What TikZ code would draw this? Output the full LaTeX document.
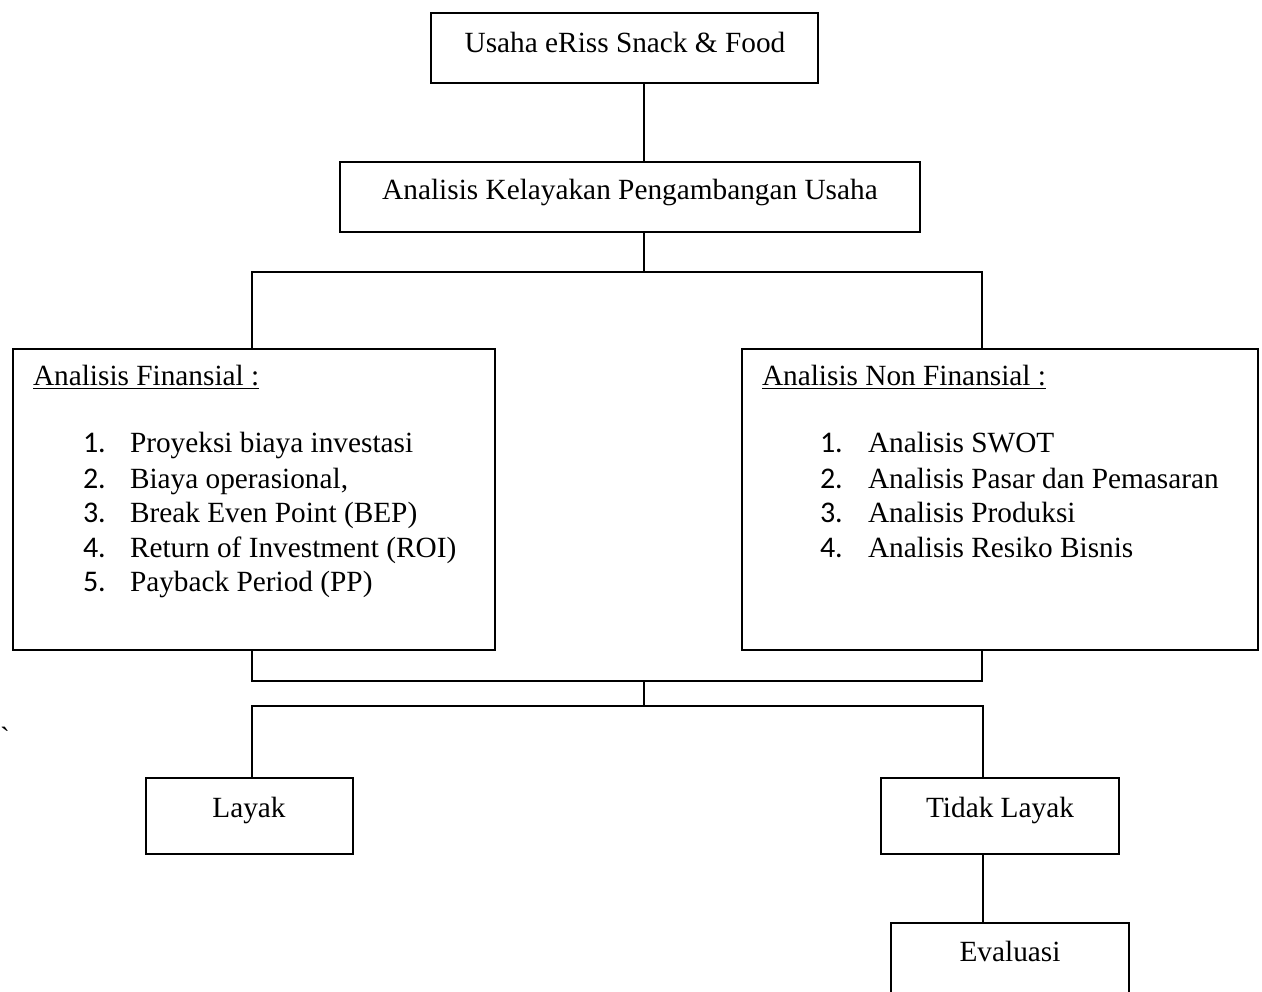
\documentclass[tikz,border=0pt]{standalone}
\usepackage{fontspec}
\setmainfont{Liberation Serif}
\newfontfamily\numfont{Carlito}
\newcommand\mainfs{\fontsize{29.3}{34.5}\selectfont}
\newcommand\numfs{\numfont\fontsize{30}{34.5}\selectfont}
\tikzset{
  box/.style={draw, line width=1.6pt, inner sep=0pt, outer sep=0pt, anchor=north west},
  lbl/.style={inner sep=0pt, outer sep=0pt, font=\mainfs},
  num/.style={inner sep=0pt, outer sep=0pt, font=\numfs, anchor=base west},
  item/.style={inner sep=0pt, outer sep=0pt, font=\mainfs, anchor=base west},
  conn/.style={line width=1.6pt, line join=miter}
}
\begin{document}
\begin{tikzpicture}[x=1pt,y=-1pt]
\useasboundingbox (0,0) rectangle (1262,992);
\begin{scope}
\clip (0,0) rectangle (1262,992);
% boxes
\node[box, minimum width=387, minimum height=70] (b1) at (431,13) {};
\node[box, minimum width=580, minimum height=70] (b2) at (340,162) {};
\node[box, minimum width=482, minimum height=301] (b3) at (13,349) {};
\node[box, minimum width=516, minimum height=301] (b4) at (742,349) {};
\node[box, minimum width=207, minimum height=76] (b5) at (146,778) {};
\node[box, minimum width=238, minimum height=76] (b6) at (881,778) {};
\node[box, minimum width=238, minimum height=90] (b7) at (891,923) {};
% texts
\node[lbl, anchor=base] (t1) at (625,53) {Usaha eRiss Snack \& Food};
\node[lbl, anchor=base] (t2) at (630,200) {Analisis Kelayakan Pengambangan Usaha};
\node[lbl, anchor=base west] (t3) at (33,386) {\underline{Analisis Finansial :}};
\node[lbl, anchor=base west] (t4) at (762,386) {\underline{Analisis Non Finansial :}};
\node[lbl, anchor=base] (t5) at (249,817) {Layak};
\node[lbl, anchor=base] (t6) at (1000,817) {Tidak Layak};
\node[lbl, anchor=base] (t7) at (1010,961) {Evaluasi};
\node[lbl, anchor=base west] (stray) at (0,747) {\textasciigrave};
% list left
\node[num] (n1) at (83,453) {1.};
\node[item] (i1) at (130,453) {Proyeksi biaya investasi};
\node[num] (n2) at (83,488) {2.};
\node[item] (i2) at (130,488) {Biaya operasional,};
\node[num] (n3) at (83,522) {3.};
\node[item] (i3) at (130,522) {Break Even Point (BEP)};
\node[num] (n4) at (83,557) {4.};
\node[item] (i4) at (130,557) {Return of Investment (ROI)};
\node[num] (n5) at (83,591) {5.};
\node[item] (i5) at (130,591) {Payback Period (PP)};
% list right
\node[num] (r1) at (820,453) {1.};
\node[item] (q1) at (868,453) {Analisis SWOT};
\node[num] (r2) at (820,488) {2.};
\node[item] (q2) at (868,488) {Analisis Pasar dan Pemasaran};
\node[num] (r3) at (820,522) {3.};
\node[item] (q3) at (868,522) {Analisis Produksi};
\node[num] (r4) at (820,557) {4.};
\node[item] (q4) at (868,557) {Analisis Resiko Bisnis};
% junctions
\coordinate (s1) at (644,272);
\coordinate (jl1) at (252,272);
\coordinate (jr1) at (982,272);
\coordinate (lx1) at (252,681);
\coordinate (rx1) at (982,681);
\coordinate (m1) at (644,681);
\coordinate (m2) at (644,706);
\coordinate (lx2) at (252,706);
\coordinate (rx2) at (983,706);
% connectors
\draw[conn] (b1.south -| s1) -- (b2.north -| s1);
\draw[conn] (b2.south -| s1) -- (s1);
\draw[conn] (b3.north -| jl1) -- (jl1) -- (jr1) -- (b4.north -| jr1);
\draw[conn] (b3.south -| lx1) -- (lx1) -- (rx1) -- (b4.south -| rx1);
\draw[conn] (m1) -- (m2);
\draw[conn] (b5.north -| lx2) -- (lx2) -- (rx2) -- (b6.north -| rx2);
\draw[conn] (b6.south -| rx2) -- (b7.north -| rx2);
\end{scope}
\end{tikzpicture}
\end{document}
